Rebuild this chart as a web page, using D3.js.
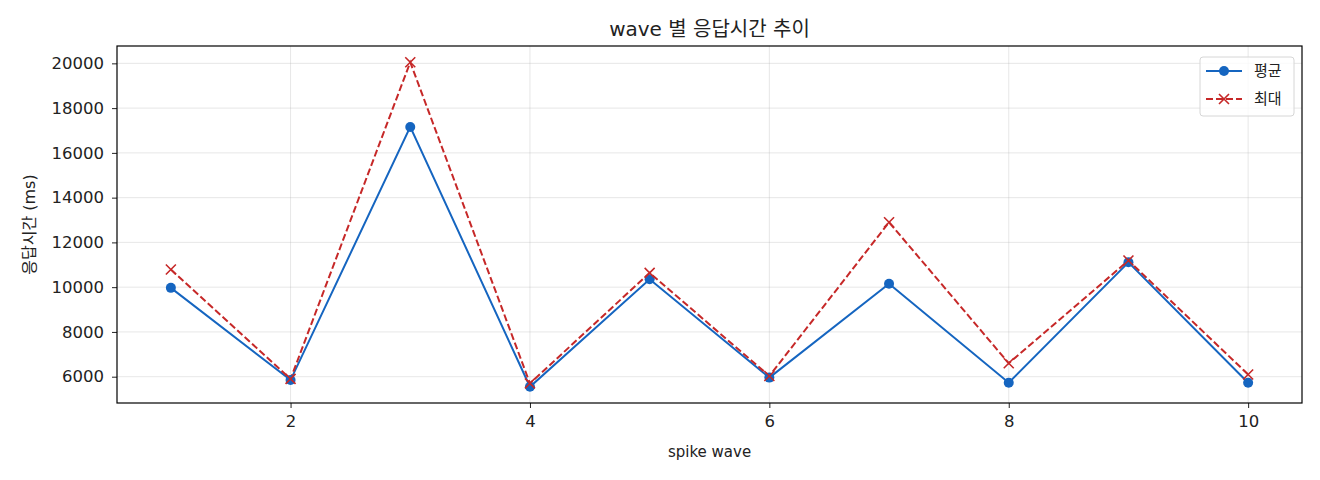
<!DOCTYPE html>
<html>
<head>
<meta charset="utf-8">
<script src="https://cdn.jsdelivr.net/npm/d3@7"></script>
<style>
  body { margin: 0; background: #fff; }
  text { font-family: "DejaVu Sans", "Noto Sans CJK KR", sans-serif; fill: #222; }
</style>
</head>
<body>
<svg id="chart" width="1320" height="480"></svg>
<script>
const waves = [1, 2, 3, 4, 5, 6, 7, 8, 9, 10];
const avgMs = [9970, 5850, 17160, 5550, 10350, 5960, 10150, 5730, 11110, 5730];
const maxMs = [10790, 5900, 20050, 5700, 10640, 6030, 12900, 6600, 11190, 6100];
const xTicks = [2, 4, 6, 8, 10];
const yTicks = [6000, 8000, 10000, 12000, 14000, 16000, 18000, 20000];

const svg = d3.select("#chart");
const margin = { top: 46, right: 18, bottom: 77, left: 117 };
const width = 1320 - margin.left - margin.right;
const height = 480 - margin.top - margin.bottom;

const x = d3.scaleLinear().domain([0.55, 10.45]).range([0, width]);
const y = d3.scaleLinear().domain([4825, 20775]).range([height, 0]);

const g = svg.append("g").attr("transform", `translate(${margin.left},${margin.top})`);

// grid
g.append("g").selectAll("line").data(xTicks).join("line")
  .attr("x1", d => x(d)).attr("x2", d => x(d))
  .attr("y1", 0).attr("y2", height)
  .attr("stroke", "#b0b0b0").attr("stroke-opacity", 0.3).attr("stroke-width", 1);
g.append("g").selectAll("line").data(yTicks).join("line")
  .attr("x1", 0).attr("x2", width)
  .attr("y1", d => y(d)).attr("y2", d => y(d))
  .attr("stroke", "#b0b0b0").attr("stroke-opacity", 0.3).attr("stroke-width", 1);

// axes
const xAxis = g.append("g").attr("transform", `translate(0,${height})`)
  .call(d3.axisBottom(x).tickValues(xTicks).tickFormat(d3.format("d"))
    .tickSize(5).tickPadding(7).tickSizeOuter(0));
const yAxis = g.append("g")
  .call(d3.axisLeft(y).tickValues(yTicks).tickFormat(d3.format("d"))
    .tickSize(5).tickPadding(8).tickSizeOuter(0));
[xAxis, yAxis].forEach(a => {
  a.select(".domain").remove();
  a.selectAll("text").attr("font-size", 16.5).attr("fill", "#222")
    .style("font-family", '"DejaVu Sans", sans-serif');
  a.selectAll("line").attr("stroke", "#222").attr("stroke-width", 1);
});

g.append("rect").attr("width", width).attr("height", height)
  .attr("fill", "none").attr("stroke", "#000").attr("stroke-width", 1.2);

// lines
const line = d3.line().x((d, i) => x(waves[i])).y(d => y(d));
g.append("path").datum(avgMs).attr("d", line)
  .attr("fill", "none").attr("stroke", "#1565c0").attr("stroke-width", 2);
g.append("path").datum(maxMs).attr("d", line)
  .attr("fill", "none").attr("stroke", "#c62828").attr("stroke-width", 2)
  .attr("stroke-dasharray", "7,3");

g.append("g").selectAll("circle").data(avgMs).join("circle")
  .attr("cx", (d, i) => x(waves[i])).attr("cy", d => y(d)).attr("r", 5)
  .attr("fill", "#1565c0");

const cross = 5;
g.append("g").selectAll("path").data(maxMs).join("path")
  .attr("d", (d, i) => {
    const cx = x(waves[i]), cy = y(d);
    return `M${cx - cross},${cy - cross}L${cx + cross},${cy + cross}M${cx - cross},${cy + cross}L${cx + cross},${cy - cross}`;
  })
  .attr("stroke", "#c62828").attr("stroke-width", 1.6).attr("fill", "none");

// title & labels
svg.append("text").attr("x", margin.left + width / 2).attr("y", 36)
  .attr("text-anchor", "middle").attr("font-size", 20).text("wave 별 응답시간 추이");
svg.append("text").attr("x", margin.left + width / 2).attr("y", 457)
  .attr("text-anchor", "middle").attr("font-size", 15).text("spike wave");
svg.append("text").attr("transform", `translate(35,${margin.top + height / 2}) rotate(-90)`)
  .attr("text-anchor", "middle").attr("font-size", 16).text("응답시간 (ms)");

// legend
const legend = svg.append("g").attr("transform", "translate(1200,57)");
legend.append("rect").attr("width", 94).attr("height", 59).attr("rx", 3)
  .attr("fill", "#fff").attr("fill-opacity", 0.8)
  .attr("stroke", "#d6d6d6").attr("stroke-width", 1);
const items = [
  { name: "평균", color: "#1565c0", dash: null, mark: "circle" },
  { name: "최대", color: "#c62828", dash: "7,3", mark: "cross" }
];
items.forEach((it, i) => {
  const ly = 14 + i * 28;
  const row = legend.append("g").attr("transform", `translate(0,${ly})`);
  row.append("line").attr("x1", 6).attr("x2", 42).attr("y1", 0).attr("y2", 0)
    .attr("stroke", it.color).attr("stroke-width", 2)
    .attr("stroke-dasharray", it.dash);
  if (it.mark === "circle") {
    row.append("circle").attr("cx", 24).attr("cy", 0).attr("r", 5).attr("fill", it.color);
  } else {
    row.append("path").attr("d", `M19,-5L29,5M19,5L29,-5`)
      .attr("stroke", it.color).attr("stroke-width", 1.6);
  }
  row.append("text").attr("x", 54).attr("y", 5).attr("font-size", 15).text(it.name);
});
</script>
</body>
</html>
